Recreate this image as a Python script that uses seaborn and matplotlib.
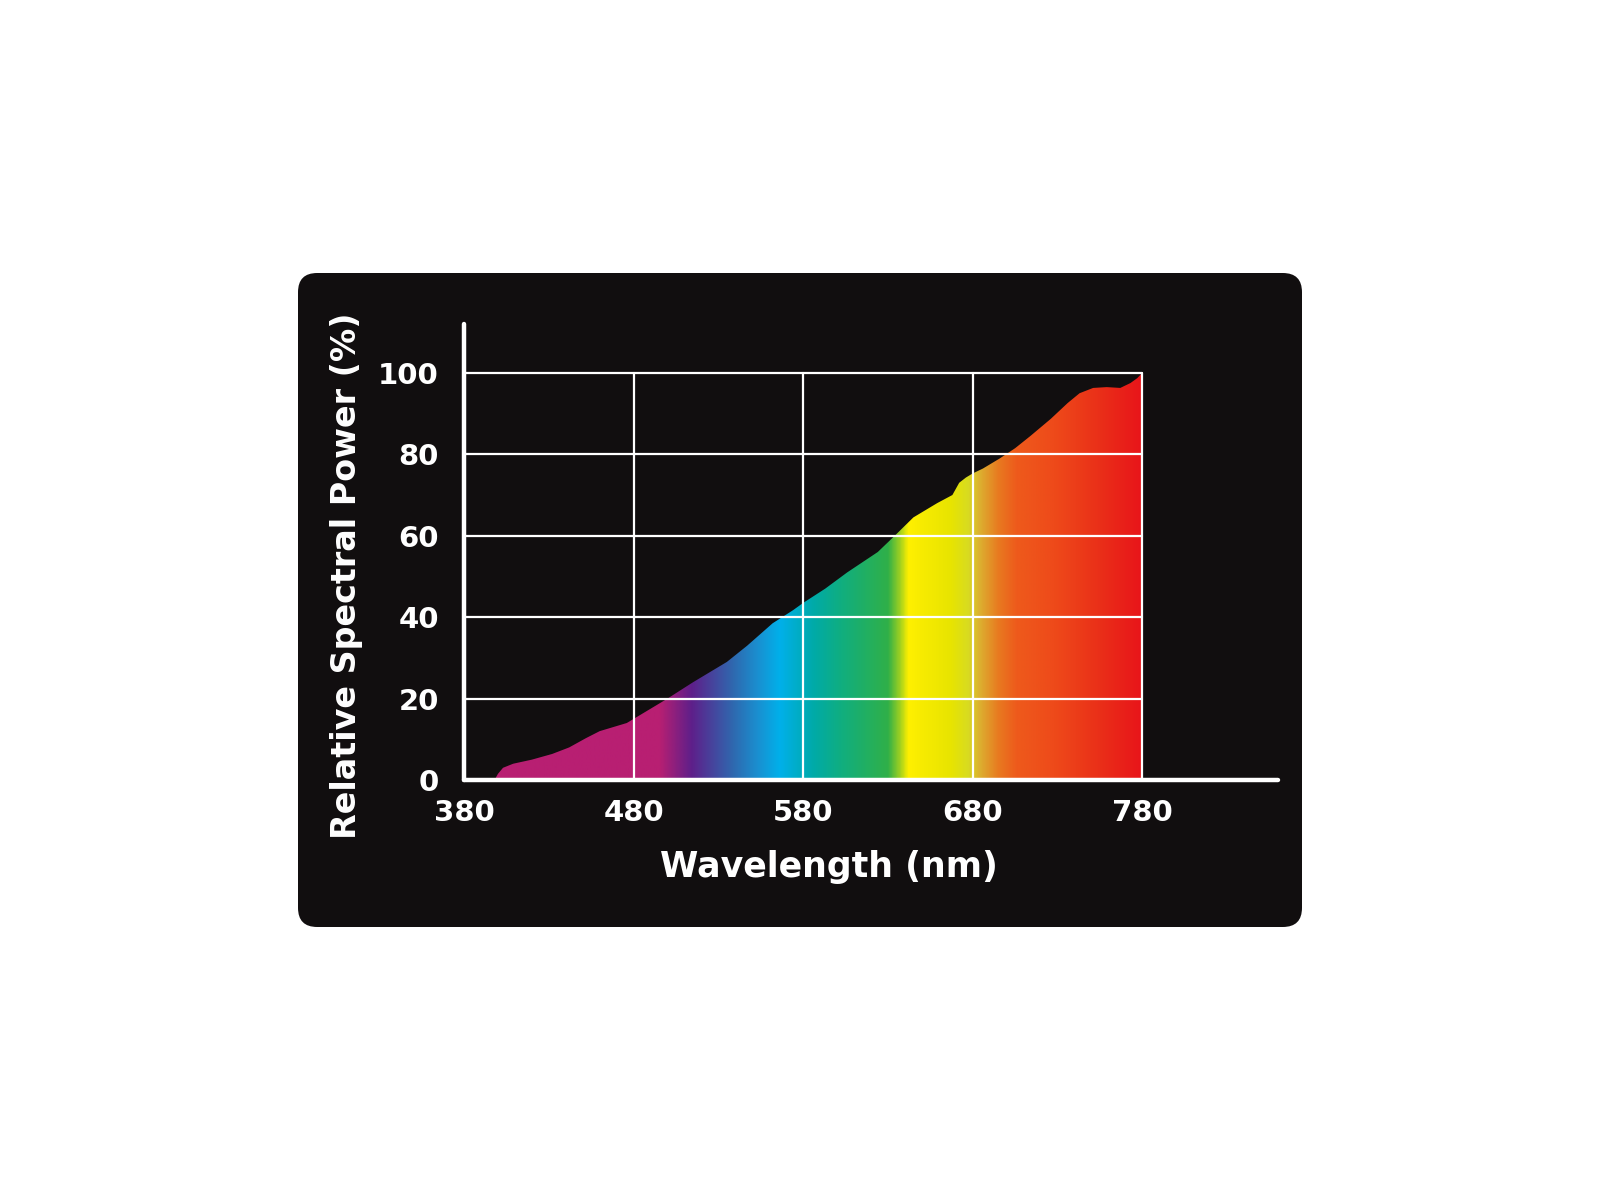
import numpy as np
import pandas as pd
import matplotlib
matplotlib.use("Agg")
import matplotlib.pyplot as plt
import seaborn as sns
from matplotlib.colors import LinearSegmentedColormap
from matplotlib.patches import FancyBboxPatch
from matplotlib.lines import Line2D

# ---- data ----
wavelength = [398, 400, 403, 409, 420, 432, 442, 452, 460, 468, 476, 480, 490, 500, 515,
              535, 547, 562, 574, 580, 593, 606, 615, 624, 634, 645, 653, 659, 668, 672,
              676, 680, 686, 696, 705, 714, 726, 736, 743, 751, 759, 767, 773, 777, 780]
power = [0.0, 1.5, 3.0, 4.0, 5.0, 6.4, 8.0, 10.3, 12.0, 13.0, 14.0, 15.0, 17.5, 20.0, 24.0,
         29.0, 33.0, 38.5, 41.7, 43.5, 47.0, 51.0, 53.5, 56.0, 60.0, 64.5, 66.5, 68.0, 70.0, 73.0,
         74.3, 75.3, 76.5, 79.0, 81.5, 84.5, 88.7, 92.6, 95.0, 96.3, 96.5, 96.3, 97.5, 98.7, 100.0]

x_ticks = [380, 480, 580, 680, 780]
y_ticks = [0, 20, 40, 60, 80, 100]
x_label = "Wavelength (nm)"
y_label = "Relative Spectral Power (%)"

# spectrum colour stops (wavelength nm, colour)
spectrum_nm = [380, 495, 514, 539, 553, 566, 586, 602, 630, 637, 642, 649, 667, 677, 684, 695, 706, 728, 754, 780]
spectrum_col = ["#b81f72", "#b81f72", "#5e1f8a", "#2e6ab0", "#1a8fd0", "#00b0ea", "#00aaa8",
                "#10ae80", "#30b048", "#9fd020", "#fff000", "#f8ec00", "#e8e400", "#d8dc20",
                "#dcb030", "#e87a20", "#ee5a1c", "#ee4a1a", "#ea3018", "#e8141a"]

df = pd.DataFrame({"wavelength": wavelength, "power": power})

sns.set_theme(style="white")
plt.rcParams["font.family"] = ["DejaVu Sans"]

fig = plt.figure(figsize=(16, 12), dpi=100)
fig.patch.set_facecolor("white")

# black rounded panel
panel = FancyBboxPatch((298 / 1600, 1 - 927 / 1200), (1302 - 298) / 1600, (927 - 273) / 1200,
                       boxstyle="round,pad=0,rounding_size=0.012",
                       transform=fig.transFigure, facecolor="#110e0f", edgecolor="none",
                       mutation_aspect=1600 / 1200, zorder=-10)
fig.patches.append(panel)

ax = fig.add_axes([464 / 1600, 1 - 780 / 1200, (1278 - 464) / 1600, (780 - 324) / 1200])
ax.set_facecolor("none")
ax.patch.set_alpha(0)
ax.set_xlim(380, 860)
ax.set_ylim(0, 112)

# curve (invisible line) via seaborn, filled with a spectrum gradient
sns.lineplot(data=df, x="wavelength", y="power", ax=ax, color="#111111", linewidth=0, zorder=2)
fill = ax.fill_between(df["wavelength"], 0, df["power"], facecolor="none", edgecolor="none")

lo, hi = spectrum_nm[0], spectrum_nm[-1]
cmap = LinearSegmentedColormap.from_list(
    "spec", [((v - lo) / (hi - lo), c) for v, c in zip(spectrum_nm, spectrum_col)], N=1024)
grad = np.linspace(0, 1, 1200).reshape(1, -1)
im = ax.imshow(grad, cmap=cmap, aspect="auto", extent=[lo, hi, 0, max(power)],
               origin="lower", zorder=2, interpolation="bilinear")
path = fill.get_paths()[0]
im.set_clip_path(path, transform=ax.transData)
ax.set_xlim(380, 860)
ax.set_ylim(0, 112)

# grid box (only within data range)
for xv in x_ticks[1:]:
    ax.plot([xv, xv], [y_ticks[0], y_ticks[-1]], color="white", lw=1.6, zorder=3)
for yv in y_ticks[1:]:
    ax.plot([x_ticks[0], x_ticks[-1]], [yv, yv], color="white", lw=1.6, zorder=3)

# axis lines with rounded caps
for s in ax.spines.values():
    s.set_visible(False)
ax.add_line(Line2D([380, 860], [0, 0], color="white", lw=3.2, solid_capstyle="round", zorder=4,
                   clip_on=False))
ax.add_line(Line2D([380, 380], [0, 112], color="white", lw=3.2, solid_capstyle="round", zorder=4,
                   clip_on=False))

ax.set_xticks(x_ticks)
ax.set_yticks(y_ticks)
ax.set_xticklabels([str(v) for v in x_ticks], fontsize=21, fontweight="bold", color="white")
ax.set_yticklabels([str(v) for v in y_ticks], fontsize=21, fontweight="bold", color="white")
ax.tick_params(axis="x", length=0, pad=14)
ax.tick_params(axis="y", length=0, pad=18)
ax.grid(False)

ax.set_xlabel(x_label, fontsize=25, fontweight="bold", color="white")
ax.set_ylabel(y_label, fontsize=24, fontweight="bold", color="white")
ax.xaxis.label.set_va("center")
ax.yaxis.label.set_va("center")
ax.xaxis.set_label_coords((829 - 464) / 814, (780 - 867) / 456)
ax.yaxis.set_label_coords((347 - 464) / 814, (780 - 576) / 456)

fig.savefig("out.png", dpi=100, facecolor="white")
